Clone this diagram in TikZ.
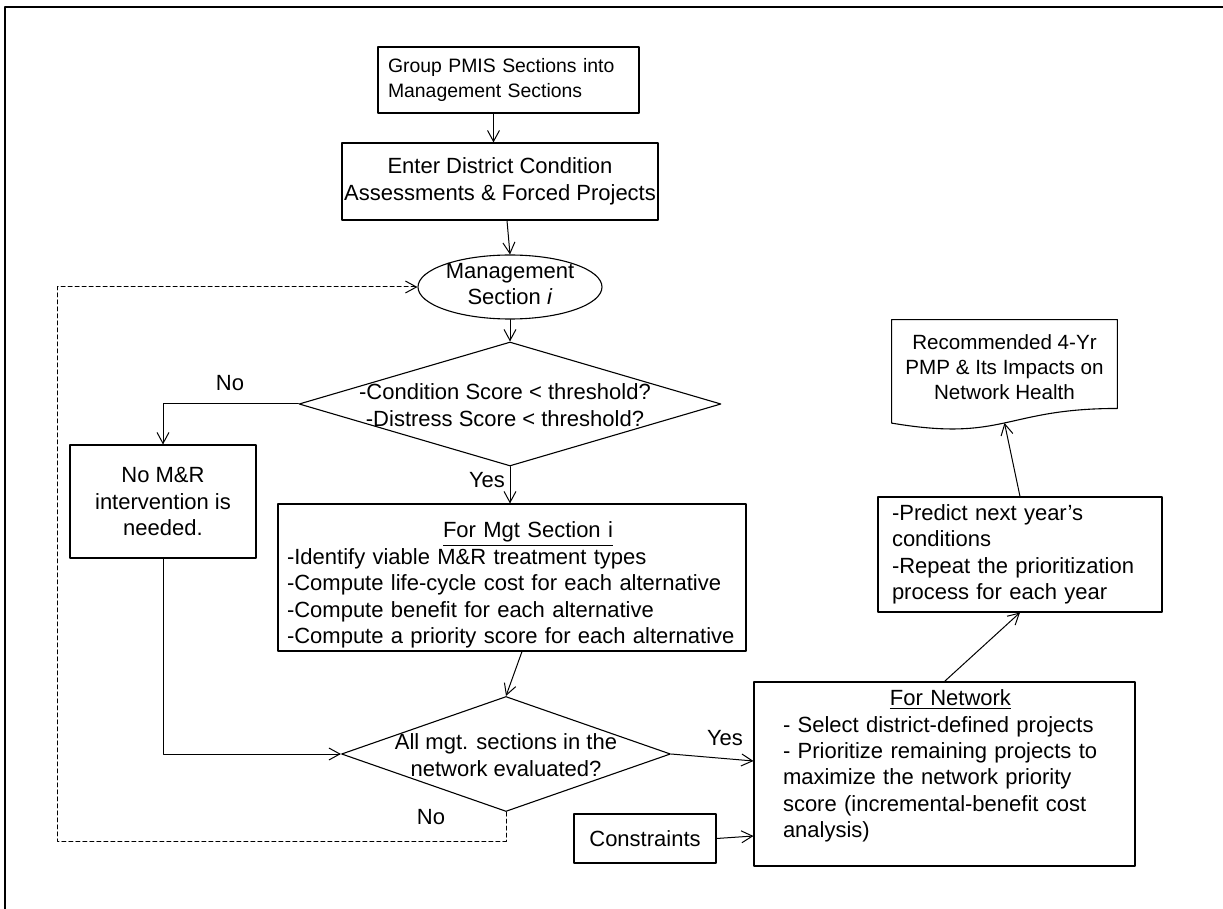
\documentclass[tikz,border=0pt]{standalone}
\usepackage{fontspec}
\setmainfont{Liberation Sans}
\usetikzlibrary{arrows.meta,shapes.geometric,calc}

\begin{document}
\begin{tikzpicture}[line cap=round,line join=round,>={Straight Barb[length=5.5pt,width=6pt]},x=0.5pt,y=-0.5pt,
  every node/.style={font=\fontsize{11}{13.2}\selectfont},
  box/.style={draw,line width=0.55pt,inner sep=0pt,align=center},
  lbox/.style={draw,line width=0.55pt,inner ysep=0pt,align=left},
  dmd/.style={draw,line width=0.55pt,diamond,inner sep=0pt},
  flow/.style={->,line width=0.5pt},
  back/.style={->,line width=0.5pt,dash pattern=on 2pt off 1.5pt}]
\useasboundingbox (0,0) rectangle (1223,909);
% frame
\draw [line width=1.2pt] (5,909) -- (5,7) -- (1223,7);
% main column
\node[lbox,text width=120.5pt,inner xsep=5pt,minimum height=33pt,font=\fontsize{9.7}{12.5}\selectfont] (grp) at (508.5,80) {Group PMIS Sections into\\Management Sections};
\node[box,minimum width=158pt,minimum height=38.5pt] (enter) at (500,181.5) {Enter District Condition\\Assessments \& Forced Projects};
\node[draw,ellipse,line width=0.55pt,minimum width=92pt,minimum height=32pt,inner sep=0pt] (msec) at (510,287) {};
\node[align=center] (msectxt) at (510,284) {Management\\Section \textit{i}};
\node[dmd,minimum width=211pt,minimum height=62pt] (cond) at (510,404) {};
\node[align=center] (condtxt) at (505,405) {-Condition Score < threshold?\\-Distress Score < threshold?};
\node[box,minimum width=93pt,minimum height=56.5pt] (nomr) at (163,501.5) {No M\&R\\intervention is\\needed.};
\node[lbox,text width=225pt,inner xsep=4.5pt,minimum height=73.5pt] (mgt) at (512,577.5) {\rule{0pt}{15.5pt}\makebox[\hsize]{\hspace{16pt}\smash{\underline{For Mgt Section i}}}\\-Identify viable M\&R treatment types\\-Compute life-cycle cost for each alternative\\-Compute benefit for each alternative\\-Compute a priority score for each alternative};
\node[dmd,minimum width=164.5pt,minimum height=57.5pt] (eval) at (506,754) {};
\node[align=center] (evaltxt) at (506,755) {All mgt. sections in the\\network evaluated?};
% network side
\node[box,minimum width=71pt,minimum height=24.5pt] (cons) at (645,838.5) {Constraints};
\node[lbox,text width=161.5pt,inner xsep=14.5pt,minimum height=92pt] (net) at (944.5,774) {\makebox[\hsize]{\hspace{6pt}\smash{\underline{For Network}}}\\- Select district-defined projects\\- Prioritize remaining projects to\\maximize the network priority\\score (incremental-benefit cost\\analysis)};
\node[lbox,text width=128pt,inner xsep=7pt,minimum height=57.5pt] (pred) at (1020,554.5) {-Predict next year's\\conditions\\-Repeat the prioritization\\process for each year};
\node[minimum width=112.5pt,minimum height=55pt,inner sep=0pt] (doc) at (1004.5,375) {};
\node[align=center,font=\fontsize{10.3}{12.5}\selectfont] (doctxt) at (1004.5,367) {Recommended 4-Yr\\PMP \& Its Impacts on\\Network Health};
\draw [line width=0.55pt] (doc.north west) -- (doc.north east) -- ($(doc.north east)!0.802!(doc.south east)$) .. controls ($(doc.north)!0.802!(doc.south)$) and ($(doc.north)!1.107!(doc.south)$) .. ($(doc.north west)!0.934!(doc.south west)$) -- cycle;
\coordinate (docb) at ($(doc.north)!0.933!(doc.south)$);
% connectors
\draw[flow] ($(grp.south)+(-15,0)$) -- ($(grp.south |- enter.north)+(-15,0)$);
\draw[flow] ($(enter.south)+(7,0)$) -- (msec.north);
\draw[flow] (msec.south) -- (cond.north);
\draw[flow] (cond.west) -| (nomr.north);
\draw[flow] (cond.south) -- (cond.south |- mgt.north);
\draw[flow] (nomr.south) |- (eval.west);
\draw[flow] ($(mgt.south)+(10,0)$) -- (eval.north);
\draw[flow] (eval.east) -- ($(net.west)+(0,-13)$);
\draw[flow] (cons.east) -- ($(net.west)+(0,62)$);
\draw[flow] (net.north) -- (pred.south);
\draw[flow] (pred.north) -- (docb);
\coordinate (lpb) at (57,841);
\coordinate (lpt) at (57,287);
\draw[back] (eval.south) |- (lpb) -- (lpt) -- (msec.west);
% labels
\node (no1) at (230,383) {No};
\node (yes1) at (487,480) {Yes};
\node (yes2) at (725,738) {Yes};
\node (no2) at (431,817) {No};
\end{tikzpicture}
\end{document}
